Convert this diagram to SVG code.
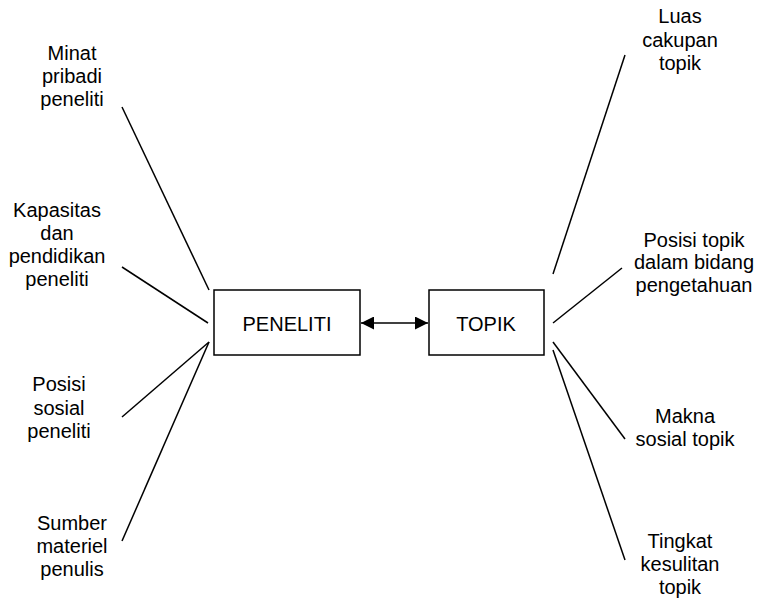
<svg xmlns="http://www.w3.org/2000/svg" width="760" height="599" viewBox="0 0 760 599">
<defs>
<style>
text{font-family:"Liberation Sans",Arial,sans-serif;font-size:20px;fill:#000;text-anchor:middle}
.box{fill:#fff;stroke:#000;stroke-width:1.5}
.ln{stroke:#000;stroke-width:1.5;fill:none}
</style>
<marker id="ah" viewBox="0 0 10 10" refX="10" refY="5" markerWidth="15" markerHeight="13" markerUnits="userSpaceOnUse" orient="auto-start-reverse">
<path d="M0,0L10,5L0,10z" fill="#000"/>
</marker>
</defs>
<rect width="760" height="599" fill="#fff"/>
<g id="connectors">
<line class="ln" x1="122" y1="107" x2="209" y2="290"/>
<line class="ln" x1="122" y1="267" x2="208" y2="323"/>
<line class="ln" x1="122" y1="417" x2="209" y2="342"/>
<line class="ln" x1="122" y1="541" x2="209" y2="342"/>
<line class="ln" x1="625" y1="55" x2="553" y2="274"/>
<line class="ln" x1="622" y1="268" x2="553" y2="323"/>
<line class="ln" x1="553" y1="342" x2="625" y2="439"/>
<line class="ln" x1="553" y1="350" x2="625" y2="560"/>
<line class="ln" x1="361" y1="323" x2="428" y2="323" marker-start="url(#ah)" marker-end="url(#ah)"/>
</g>
<g id="peneliti">
<rect class="box" x="214" y="290" width="146" height="65"/>
<text x="287" y="331">PENELITI</text>
</g>
<g id="topik">
<rect class="box" x="429" y="290" width="115" height="65"/>
<text x="486" y="331">TOPIK</text>
</g>
<g id="minat"><text x="72" y="60">Minat</text><text x="72" y="83">pribadi</text><text x="72" y="106">peneliti</text></g>
<g id="kapasitas"><text x="57" y="217">Kapasitas</text><text x="57" y="240">dan</text><text x="57" y="263">pendidikan</text><text x="57" y="286">peneliti</text></g>
<g id="posisi-sosial"><text x="59" y="391">Posisi</text><text x="59" y="415">sosial</text><text x="59" y="438">peneliti</text></g>
<g id="sumber"><text x="72" y="530">Sumber</text><text x="72" y="553">materiel</text><text x="72" y="576">penulis</text></g>
<g id="luas"><text x="680" y="23">Luas</text><text x="680" y="47">cakupan</text><text x="680" y="70">topik</text></g>
<g id="posisi-topik"><text x="694" y="247">Posisi topik</text><text x="694" y="269">dalam bidang</text><text x="694" y="292">pengetahuan</text></g>
<g id="makna"><text x="685" y="423">Makna</text><text x="685" y="446">sosial topik</text></g>
<g id="tingkat"><text x="680" y="548">Tingkat</text><text x="680" y="571">kesulitan</text><text x="680" y="594">topik</text></g>
</svg>
